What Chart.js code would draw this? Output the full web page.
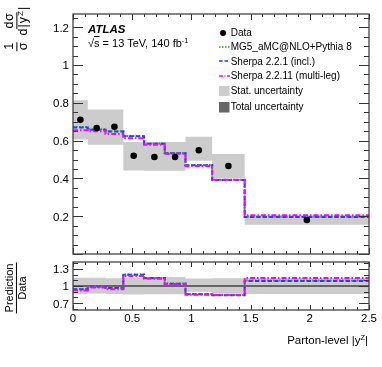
<!DOCTYPE html>
<html>
<head>
<meta charset="utf-8">
<script src="https://cdn.jsdelivr.net/npm/chart.js@4.4.1/dist/chart.umd.min.js"></script>
<style>
  html, body { margin:0; padding:0; background:#fff; }
  #wrap { position:relative; width:382px; height:367px; background:#fff; overflow:hidden;
          font-family:'Liberation Sans', Arial, Helvetica, sans-serif; color:#000; }
  canvas { position:absolute; left:0; }
  .abs { position:absolute; white-space:nowrap; }
  .frac { display:inline-flex; flex-direction:column; align-items:center; vertical-align:middle; margin:0 1px; }
  .frac .num { border-bottom:1px solid #000; padding:0 1px; line-height:1.05; }
  .frac .den { padding:0 1px; line-height:1.05; }
  .leg { position:absolute; left:218px; height:12px; display:flex; align-items:center; font-size:10px; white-space:nowrap; }
  .leg svg { width:12px; height:12px; flex:none; margin-right:0.7px; }
  sup { font-size:0.65em; vertical-align:0; position:relative; top:-0.55em; }
</style>
</head>
<body>
<div id="wrap">
  <canvas id="main" width="382" height="258" style="top:0;width:382px;height:258px"></canvas>
  <canvas id="ratio" width="382" height="109" style="top:258px;width:382px;height:109px"></canvas>

  <div class="abs" style="left:16.5px;top:28px;transform:translate(-50%,-50%) rotate(-90deg);font-size:12.5px;display:flex;align-items:center;">
    <span class="frac" style="margin-right:4px"><span class="num">1</span><span class="den">σ</span></span>
    <span class="frac"><span class="num" style="letter-spacing:0.5px">dσ</span><span class="den" style="letter-spacing:1px">d|y<sup>Z</sup>|</span></span>
  </div>
  <div class="abs" style="left:16px;top:287.5px;transform:translate(-50%,-50%) rotate(-90deg);font-size:11px;display:flex;align-items:center;">
    <span class="frac"><span class="num">Prediction</span><span class="den">Data</span></span>
  </div>
  <div class="abs" style="right:14px;top:334px;font-size:11.5px;">Parton-level |y<sup>Z</sup>|</div>

  <div class="abs" style="left:88px;top:23px;font-size:11.5px;font-weight:bold;font-style:italic;">ATLAS</div>
  <div class="abs" style="left:88px;top:37px;font-size:11px;">√<span style="text-decoration:overline">s</span> = 13 TeV, 140 fb<sup>-1</sup></div>

  <div class="leg" style="top:26.7px"><svg><circle cx="5" cy="6" r="3" fill="#000"/></svg>Data</div>
  <div class="leg" style="top:40.9px"><svg><line x1="1" y1="6" x2="12" y2="6" stroke="#2ca02c" stroke-width="1.5" stroke-dasharray="1.5,1.5"/></svg>MG5_aMC@NLO+Pythia 8</div>
  <div class="leg" style="top:55.2px"><svg><line x1="1" y1="6" x2="12" y2="6" stroke="#1f3fff" stroke-width="1.5" stroke-dasharray="3.5,2"/></svg>Sherpa 2.2.1 (incl.)</div>
  <div class="leg" style="top:69.8px"><svg><line x1="1" y1="6" x2="12" y2="6" stroke="#ff00ff" stroke-width="1.5" stroke-dasharray="4,1.5,1,1.5"/></svg>Sherpa 2.2.11 (multi-leg)</div>
  <div class="leg" style="top:84.6px"><svg><rect x="1" y="1" width="10.5" height="10" fill="#cccccc"/></svg>Stat. uncertainty</div>
  <div class="leg" style="top:100.6px"><svg><rect x="1" y="1" width="10.5" height="10.5" fill="#666666"/></svg>Total uncertainty</div>
</div>

<script>
// ---------- data ----------
const binEdges   = [0, 0.125, 0.275, 0.425, 0.6, 0.775, 0.95, 1.175, 1.45, 2.5];
const binCenters = [0.0625, 0.2, 0.35, 0.5125, 0.6875, 0.8625, 1.0625, 1.3125, 1.975];
const dataVals   = [0.710, 0.667, 0.673, 0.520, 0.513, 0.513, 0.549, 0.466, 0.180];
const uncLow     = [0.606, 0.578, 0.578, 0.442, 0.440, 0.440, 0.494, 0.402, 0.155];
const uncHigh    = [0.814, 0.764, 0.764, 0.593, 0.593, 0.593, 0.621, 0.529, 0.205];
const mg5Vals    = [0.672, 0.660, 0.650, 0.624, 0.585, 0.535, 0.471, 0.393, 0.197];
const sherpa221  = [0.670, 0.658, 0.648, 0.623, 0.584, 0.533, 0.470, 0.391, 0.196];
const sherpa2211 = [0.655, 0.650, 0.635, 0.612, 0.578, 0.530, 0.466, 0.393, 0.205];
const xTickLabels     = [0, 0.5, 1, 1.5, 2, 2.5];
const mainYTickLabels = [0.2, 0.4, 0.6, 0.8, 1, 1.2];
const ratioYTickLabels = [0.7, 1, 1.3];

// ---------- helpers ----------
const FONT = "'Liberation Sans', Arial, Helvetica, sans-serif";
function stepPts(vals) {
  const pts = vals.map((v, i) => ({x: binEdges[i], y: v}));
  pts.push({x: binEdges[binEdges.length - 1], y: vals[vals.length - 1]});
  return pts;
}
function ratioOf(vals) { return vals.map((v, i) => v / dataVals[i]); }

const COL = {green:'#2ca02c', blue:'#1f3fff', mag:'#ff00ff', band:'#cccccc'};

function lineDs(label, vals, color, dash, order) {
  return {label, data: stepPts(vals), borderColor: color, borderWidth: 2, borderDash: dash,
          stepped: true, pointRadius: 0, fill: false, order};
}
function bandDs(lo, hi) {
  return [
    {label:'uncHi', data: stepPts(hi), borderWidth: 0, borderColor:'rgba(0,0,0,0)', backgroundColor: COL.band,
     stepped: true, pointRadius: 0, fill: '+1', order: 10},
    {label:'uncLo', data: stepPts(lo), borderWidth: 0, borderColor:'rgba(0,0,0,0)',
     stepped: true, pointRadius: 0, fill: false, order: 11}
  ];
}

// inward ticks + frame, ROOT style
function tickPlugin(cfg) {
  return {
    id: 'rootFrame',
    afterDatasetsDraw(chart) {
      const {ctx, chartArea: a, scales} = chart;
      const xs = scales.x, ys = scales.y;
      ctx.save();
      ctx.strokeStyle = '#333';
      ctx.lineWidth = 1;
      const vals = (min, max, step) => { const r = [];
        for (let k = Math.ceil(min / step - 1e-6); k * step <= max + 1e-9; k++) r.push(+(k * step).toFixed(6)); return r; };
      vals(xs.min, xs.max, cfg.xMinor).forEach(v => {
        const isMaj = Math.abs(v / cfg.xMajor - Math.round(v / cfg.xMajor)) < 1e-6;
        const L = isMaj ? cfg.xMajLen : cfg.xMinLen;
        const px = Math.round(xs.getPixelForValue(v)) + 0.5;
        ctx.beginPath();
        ctx.moveTo(px, a.bottom); ctx.lineTo(px, a.bottom - L);
        ctx.moveTo(px, a.top); ctx.lineTo(px, a.top + L);
        ctx.stroke();
      });
      vals(ys.min, ys.max, cfg.yMinor).forEach(v => {
        if (v < ys.min || v > ys.max) return;
        const isMaj = cfg.yMajors.some(m => Math.abs(m - v) < 1e-6);
        const L = isMaj ? cfg.yMajLen : cfg.yMinLen;
        const py = Math.round(ys.getPixelForValue(v)) + 0.5;
        ctx.beginPath();
        ctx.moveTo(a.left, py); ctx.lineTo(a.left + L, py);
        ctx.moveTo(a.right, py); ctx.lineTo(a.right - L, py);
        ctx.stroke();
      });
      ctx.strokeStyle = '#444';
      ctx.lineWidth = 1.3;
      ctx.strokeRect(a.left, a.top, a.right - a.left, a.bottom - a.top);
      ctx.restore();
    }
  };
}

const tickFont = {family: FONT, size: 11.5};

function noPad(s) { s.paddingTop = 0; s.paddingBottom = 0; s.paddingLeft = 0; s.paddingRight = 0; }

function yScale(min, max, ticksList) {
  return {
    type: 'linear', min, max,
    grid: {display: false, drawTicks: false}, border: {display: false},
    afterFit(s) { s.width = 73; noPad(s); },
    afterBuildTicks(s) { s.ticks = ticksList.map(v => ({value: v})); },
    ticks: {font: tickFont, color: '#000', padding: 4, labelOffset: 1.2, callback: v => String(v)}
  };
}

// ---------- main chart ----------
new Chart(document.getElementById('main'), {
  type: 'line',
  data: {
    datasets: [
      {label: 'Data', data: binCenters.map((x, i) => ({x, y: dataVals[i]})), showLine: false,
       pointRadius: 3.3, pointBackgroundColor: '#000', pointBorderColor: '#000', pointBorderWidth: 0, order: 0},
      lineDs('Sherpa 2.2.11 (multi-leg)', sherpa2211, COL.mag, [5, 2, 1.5, 2], 1),
      lineDs('Sherpa 2.2.1 (incl.)', sherpa221, COL.blue, [4, 2.5], 2),
      lineDs('MG5_aMC@NLO+Pythia 8', mg5Vals, COL.green, [1.5, 1.5], 3),
      ...bandDs(uncLow, uncHigh)
    ]
  },
  options: {
    responsive: false, animation: false, devicePixelRatio: 1,
    layout: {padding: {top: 14, right: 13, bottom: 2, left: 0}},
    plugins: {legend: {display: false}, tooltip: {enabled: false}},
    scales: {
      x: {type: 'linear', min: 0, max: 2.5, display: false},
      y: yScale(0, 1.27, mainYTickLabels)
    }
  },
  plugins: [tickPlugin({xMajor: 0.5, xMinor: 0.1, xMajLen: 6, xMinLen: 3,
                        yMajors: mainYTickLabels.concat([0]), yMinor: 0.05, yMajLen: 10, yMinLen: 5})]
});

// ---------- ratio chart ----------
new Chart(document.getElementById('ratio'), {
  type: 'line',
  data: {
    datasets: [
      {label: 'unity', data: [{x: 0, y: 1}, {x: 2.5, y: 1}], borderColor: '#000', borderWidth: 1.2,
       pointRadius: 0, fill: false, order: 5},
      lineDs('Sherpa 2.2.11 (multi-leg)', ratioOf(sherpa2211), COL.mag, [5, 2, 1.5, 2], 1),
      lineDs('Sherpa 2.2.1 (incl.)', ratioOf(sherpa221), COL.blue, [4, 2.5], 2),
      lineDs('MG5_aMC@NLO+Pythia 8', ratioOf(mg5Vals), COL.green, [1.5, 1.5], 3),
      ...bandDs(ratioOf(uncLow), ratioOf(uncHigh))
    ]
  },
  options: {
    responsive: false, animation: false, devicePixelRatio: 1,
    layout: {padding: {top: 4, right: 13, bottom: 0, left: 0}},
    plugins: {legend: {display: false}, tooltip: {enabled: false}},
    scales: {
      x: {type: 'linear', min: 0, max: 2.5,
          grid: {display: false, drawTicks: false}, border: {display: false},
          afterFit(s) { s.height = 57; noPad(s); },
          afterBuildTicks(s) { s.ticks = xTickLabels.map(v => ({value: v})); },
          ticks: {font: tickFont, color: '#000', padding: 1.5, maxRotation: 0, autoSkip: false, callback: v => String(v)}},
      y: yScale(0.58, 1.42, ratioYTickLabels)
    }
  },
  plugins: [tickPlugin({xMajor: 0.5, xMinor: 0.1, xMajLen: 5, xMinLen: 3,
                        yMajors: ratioYTickLabels, yMinor: 0.1, yMajLen: 10, yMinLen: 5})]
});
</script>
</body>
</html>
